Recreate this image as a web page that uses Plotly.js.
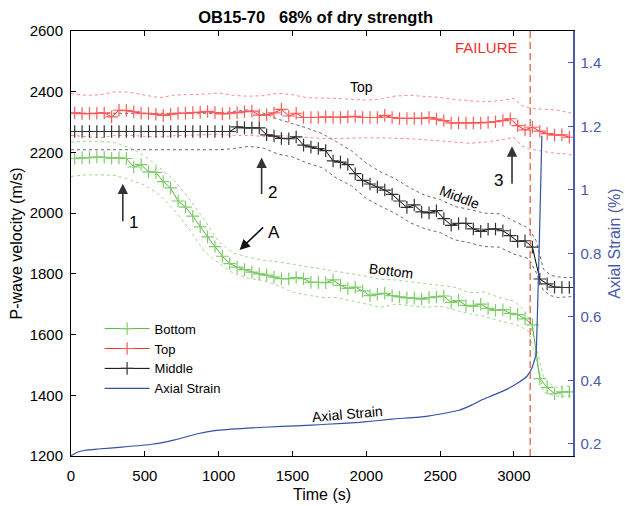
<!DOCTYPE html>
<html>
<head>
<meta charset="utf-8">
<script src="https://cdn.plot.ly/plotly-3.0.1.min.js"></script>
<style>html,body{margin:0;padding:0;background:#fff;}#chart{width:625px;height:506px;}</style>
</head>
<body>
<div id="chart"></div>
<script>
// ---------- data ----------
const timeS = [25,75,125,175,225,275,325,375,425,475,525,575,625,675,725,775,825,875,925,975,
  1025,1075,1125,1175,1225,1275,1325,1375,1425,1475,1525,1575,1625,1675,1725,1775,1825,1875,1925,1975,
  2025,2075,2125,2175,2225,2275,2325,2375,2425,2475,2525,2575,2625,2675,2725,2775,2825,2875,2925,2975,
  3025,3075,3125,3175,3225,3275,3325,3375];

const bottomV = [2180,2182,2183,2185,2184,2181,2182,2180,2152,2160,2136,2134,2104,2083,2040,2020,1990,1955,1922,1890,
  1858,1834,1822,1814,1806,1800,1796,1789,1784,1784,1788,1784,1772,1772,1771,1780,1762,1752,1756,1744,
  1728,1733,1736,1728,1724,1721,1720,1717,1722,1724,1727,1706,1712,1696,1694,1700,1686,1680,1682,1670,
  1666,1652,1632,1455,1426,1405,1411,1411];

const topV = [2330,2328,2328,2329,2330,2317,2339,2338,2334,2329,2328,2326,2322,2326,2329,2329,2331,2332,2335,2331,
  2327,2329,2331,2334,2336,2323,2324,2330,2342,2320,2329,2315,2315,2315,2317,2315,2315,2317,2319,2315,
  2315,2315,2322,2315,2312,2312,2312,2312,2315,2310,2305,2297,2297,2297,2297,2297,2299,2301,2305,2311,
  2288,2274,2283,2270,2262,2257,2258,2250];

const middleV = [2269,2269,2269,2269,2269,2269,2269,2269,2269,2269,2269,2269,2269,2269,2269,2269,2269,2269,2269,2269,
  2269,2269,2284,2281,2281,2281,2258,2254,2246,2245,2251,2224,2218,2213,2206,2172,2168,2160,2130,2108,
  2096,2086,2076,2062,2040,2019,2027,2004,2001,2008,1982,1960,1966,1966,1948,1940,1947,1948,1942,1926,
  1907,1909,1888,1783,1767,1756,1755,1755];

// uncertainty envelopes (dotted)
const bandT = [0,100,200,300,400,500,600,700,800,900,1000,1100,1200,1300,1400,1500,1600,1700,1800,1900,
  2000,2100,2200,2300,2400,2500,2600,2700,2800,2900,3000,3050,3100,3150,3200,3250,3300,3350,3400];
const topUpper = [2394,2388,2390,2400,2398,2390,2380,2389,2390,2392,2396,2388,2385,2387,2395,2390,2380,2380,2378,2375,
  2372,2376,2386,2388,2385,2381,2374,2370,2367,2370,2378,2355,2348,2344,2342,2340,2339,2333,2328];
const topLower = [2256,2252,2248,2256,2256,2253,2251,2255,2256,2258,2260,2256,2256,2253,2255,2253,2250,2246,2246,2248,
  2248,2248,2247,2245,2242,2238,2232,2230,2234,2240,2250,2222,2212,2207,2203,2199,2196,2196,2190];
const middleUpper = [2329,2329,2329,2329,2329,2329,2329,2329,2329,2329,2329,2335,2340,2330,2310,2295,2280,2262,2235,2205,
  2165,2135,2112,2082,2058,2045,2022,2012,2000,1998,1975,1962,1950,1910,1815,1795,1790,1788,1788];
const middleLower = [2209,2209,2209,2209,2209,2209,2209,2209,2209,2209,2209,2212,2220,2215,2195,2185,2165,2150,2115,2090,
  2048,2022,1998,1968,1948,1936,1912,1902,1890,1888,1865,1858,1850,1805,1745,1728,1722,1724,1725];
const bottomUpper = [2234,2237,2236,2232,2215,2188,2150,2108,2047,1980,1906,1868,1855,1845,1840,1832,1826,1818,1810,1800,
  1792,1782,1780,1774,1768,1762,1756,1738,1740,1722,1710,1690,1656,1560,1460,1436,1424,1430,1430];
const bottomLower = [2121,2126,2126,2124,2110,2092,2060,2010,1948,1876,1835,1802,1786,1778,1762,1740,1730,1722,1722,1712,
  1702,1690,1700,1695,1690,1694,1680,1668,1660,1645,1635,1625,1610,1520,1410,1402,1397,1397,1397];

// axial strain (%)
const strainT = [0,43,95,182,345,547,703,858,973,1196,1425,1628,1730,1953,2176,2406,2514,2628,2716,2784,2851,2946,3034,3088,3122,3149,3156,3170,3183,3189];
const strainV = [0.163,0.174,0.180,0.184,0.190,0.199,0.213,0.232,0.242,0.250,0.255,0.259,0.262,0.268,0.278,0.287,0.295,0.306,0.323,0.339,0.352,0.371,0.394,0.413,0.439,0.481,0.559,0.80,1.05,1.17];

const failureT = 3110;
const xTicks = [0,500,1000,1500,2000,2500,3000];
const yTicks = [1200,1400,1600,1800,2000,2200,2400,2600];
const y2Ticks = [0.2,0.4,0.6,0.8,1,1.2,1.4];

// ---------- styles ----------
const FONT = 'Liberation Sans, Arial, sans-serif';
const GREEN = '#5cb544', RED = '#f42c2c', BLACK = '#000000', BLUE = '#3550a8', AXBLUE = '#4b5aaa';

function band(y, color) {
  return {x: bandT, y: y, mode: 'lines', line: {color: color, width: 1, dash: 'dot'},
          showlegend: false, hoverinfo: 'skip'};
}
function series(name, y, lineColor, markColor) {
  return {x: timeS, y: y, name: name, mode: 'lines+markers',
          line: {color: lineColor, width: 1},
          marker: {symbol: 'cross-thin', size: 9, line: {color: markColor, width: 1.2}}};
}

const traces = [
  band(topUpper, '#ff8a8a'), band(topLower, '#ff8a8a'),
  band(middleUpper, '#6a6a6a'), band(middleLower, '#6a6a6a'),
  band(bottomUpper, '#9fd98f'), band(bottomLower, '#9fd98f'),
  series('Bottom', bottomV, GREEN, '#7fcc6a'),
  series('Top', topV, RED, '#ff5a5a'),
  series('Middle', middleV, BLACK, '#333333'),
  {x: strainT, y: strainV, name: 'Axial Strain', yaxis: 'y2', mode: 'lines',
   line: {color: BLUE, width: 1.2, shape: 'spline', smoothing: 0.4}}
];

function arrow(x, y, ax, ay, color) {
  return {x: x, y: y, xref: 'x', yref: 'y', ax: ax, ay: ay, text: '', showarrow: true,
          arrowhead: 2, arrowsize: 1.3, arrowwidth: 1.6, arrowcolor: color};
}
function label(x, y, text, size, angle, color) {
  return {x: x, y: y, xref: 'x', yref: 'y', text: text, showarrow: false,
          textangle: angle || 0, font: {family: FONT, size: size, color: color || '#000'}};
}

const layout = {
  width: 625, height: 506,
  margin: {l: 71, r: 52, t: 31, b: 50},
  paper_bgcolor: '#fff', plot_bgcolor: '#fff',
  font: {family: FONT, size: 15, color: '#000'},
  title: {text: '<b>OB15-70\u00a0\u00a0\u00a068% of dry strength</b>', font: {family: FONT, size: 16.5, color: '#000'},
          x: 0.505, xref: 'container', y: 0.966, yref: 'container', yanchor: 'middle'},
  showlegend: true,
  legend: {x: 0.057, y: 0.335, xanchor: 'left', yanchor: 'top', bgcolor: 'rgba(0,0,0,0)',
           font: {family: FONT, size: 13}, tracegroupgap: 0, itemwidth: 45},
  xaxis: {range: [0, 3400], tickvals: xTicks, ticks: 'inside', ticklen: 5, tickcolor: '#000',
          showline: true, linecolor: '#000', linewidth: 1, mirror: 'ticks', showgrid: false, zeroline: false,
          tickfont: {family: FONT, size: 15}, ticklabelstandoff: 6,
          title: {text: 'Time (s)', font: {family: FONT, size: 16}, standoff: 5}},
  yaxis: {range: [1200, 2600], tickvals: yTicks, ticks: 'inside', ticklen: 5, tickcolor: '#000',
          showline: true, linecolor: '#000', linewidth: 1, mirror: false, showgrid: false, zeroline: false,
          tickfont: {family: FONT, size: 15}, ticklabelstandoff: 4,
          title: {text: 'P-wave velocity (m/s)', font: {family: FONT, size: 16}, standoff: 3}},
  yaxis2: {range: [0.162, 1.5], tickvals: y2Ticks, overlaying: 'y', side: 'right', ticks: 'inside', ticklen: 5,
           tickcolor: AXBLUE, showline: true, linecolor: AXBLUE, linewidth: 1.5, showgrid: false, zeroline: false,
           tickfont: {family: FONT, size: 15, color: AXBLUE}, ticklabelstandoff: 3,
           title: {text: 'Axial Strain (%)', font: {family: FONT, size: 16, color: AXBLUE}, standoff: 8}},
  shapes: [{type: 'line', xref: 'x', yref: 'paper', x0: failureT, x1: failureT, y0: 0, y1: 1,
            line: {color: '#d9583c', width: 1.2, dash: '7px,4px'}}],
  annotations: [
    arrow(351, 2097, 0, 39, '#333'),
    arrow(1291, 2183, 0, 38, '#333'),
    arrow(2987, 2220, 0, 39, '#333'),
    arrow(1142, 1879, 25, -24, '#111'),
    label(426, 1969, '1', 17), label(1365, 2068, '2', 17), label(2892, 2107, '3', 17), label(1378, 1935, 'A', 17),
    label(1966, 2415, 'Top', 14),
    label(2628, 2054, 'Middle', 14, 21),
    label(2169, 1810, 'Bottom', 14, 7),
    label(1872, 1337, 'Axial Strain', 14, -5),
    label(2811, 2547, 'FAILURE', 15, 0, '#f23030')
  ]
};

Plotly.newPlot('chart', traces, layout, {staticPlot: true, displayModeBar: false});
</script>
</body>
</html>
